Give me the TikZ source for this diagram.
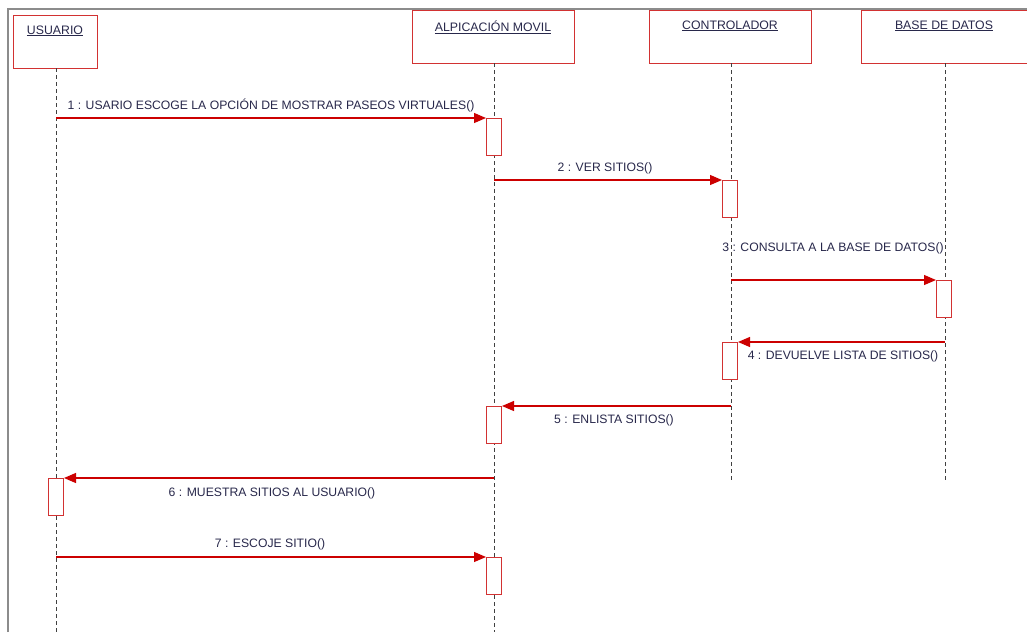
\documentclass[tikz,border=0pt]{standalone}
\usepackage{fontspec}
\setmainfont{Liberation Sans}
\usetikzlibrary{arrows.meta}
\definecolor{umlred}{RGB}{204,0,0}
\definecolor{boxred}{RGB}{210,50,50}
\definecolor{txt}{RGB}{40,40,75}
\definecolor{frame}{RGB}{140,140,140}
\tikzset{
  head/.style={draw=boxred, line width=1.1pt, fill=white, anchor=north west, inner sep=0pt},
  headtext/.style={text=txt, font=\fontsize{12.3}{14}\selectfont, anchor=north},
  act/.style={draw=boxred, line width=1pt, fill=white, minimum width=15pt, minimum height=37pt, anchor=north west, inner sep=0pt},
  life/.style={draw=black!75, line width=1pt, dash pattern=on 4pt off 3pt},
  msg/.style={draw=umlred, line width=1.2pt, -{Triangle[length=12pt,width=10pt]}},
  lbl/.style={text=txt, font=\fontsize{12.2}{14}\selectfont, inner sep=0pt}
}
\begin{document}
\begin{tikzpicture}[x=1pt,y=-1pt]
\useasboundingbox (0,0) rectangle (1027,632);
\fill[white] (0,0) rectangle (1027,632);
% frame
\draw[frame, line width=1.5pt] (8,632) -- (8,9) -- (1027,9);

% heads
\node[head, minimum width=84pt, minimum height=53pt] (hU) at (13,15) {};
\node[head, minimum width=162pt, minimum height=53pt] (hA) at (412,10) {};
\node[head, minimum width=162pt, minimum height=53pt] (hC) at (649,10) {};
\node[head, minimum width=170pt, minimum height=53pt] (hB) at (861,10) {};
\node[headtext] (tU) at (55,22) {\underline{USUARIO}};
\node[headtext] (tA) at (493,17) {\underline{ALPICACIÓN MOVIL}};
\node[headtext] (tC) at (730,17) {\underline{CONTROLADOR}};
\node[headtext] (tB) at (944,17) {\underline{BASE DE DATOS}};

% lifeline ends
\coordinate (eU) at (56,632);
\coordinate (eA) at (494,632);
\coordinate (eC) at (731,482);
\coordinate (eB) at (945,482);
\draw[life] (56,68) -- (eU);
\draw[life] (494,63) -- (eA);
\draw[life] (731,63) -- (eC);
\draw[life] (945,63) -- (eB);

% activations
\node[act] (a1) at (486,118) {};
\node[act] (a2) at (722,180) {};
\node[act] (a3) at (936,280) {};
\node[act] (a4) at (722,342) {};
\node[act] (a5) at (486,406) {};
\node[act] (a6) at (48,478) {};
\node[act] (a7) at (486,557) {};

% message sources
\coordinate (s1) at (56,118);
\coordinate (s2) at (494,180);
\coordinate (s3) at (731,280);
\coordinate (s4) at (945,342);
\coordinate (s5) at (731,406);
\coordinate (s6) at (494,478);
\coordinate (s7) at (56,557);

\draw[msg] (s1) -- (a1.north west);
\draw[msg] (s2) -- (a2.north west);
\draw[msg] (s3) -- (a3.north west);
\draw[msg] (s4) -- (a4.north east);
\draw[msg] (s5) -- (a5.north east);
\draw[msg] (s6) -- (a6.north east);
\draw[msg] (s7) -- (a7.north west);

% labels
\node[lbl] (l1) at (271,105) {1 : USARIO ESCOGE LA OPCIÓN DE MOSTRAR PASEOS VIRTUALES()};
\node[lbl] (l2) at (605,168) {2 : VER SITIOS()};
\node[lbl] (l3) at (833,248) {3 : CONSULTA A LA BASE DE DATOS()};
\node[lbl] (l4) at (843,356) {4 : DEVUELVE LISTA DE SITIOS()};
\node[lbl] (l5) at (614,420) {5 : ENLISTA SITIOS()};
\node[lbl] (l6) at (272,493) {6 : MUESTRA SITIOS AL USUARIO()};
\node[lbl] (l7) at (270,544) {7 : ESCOJE SITIO()};
\end{tikzpicture}
\end{document}
